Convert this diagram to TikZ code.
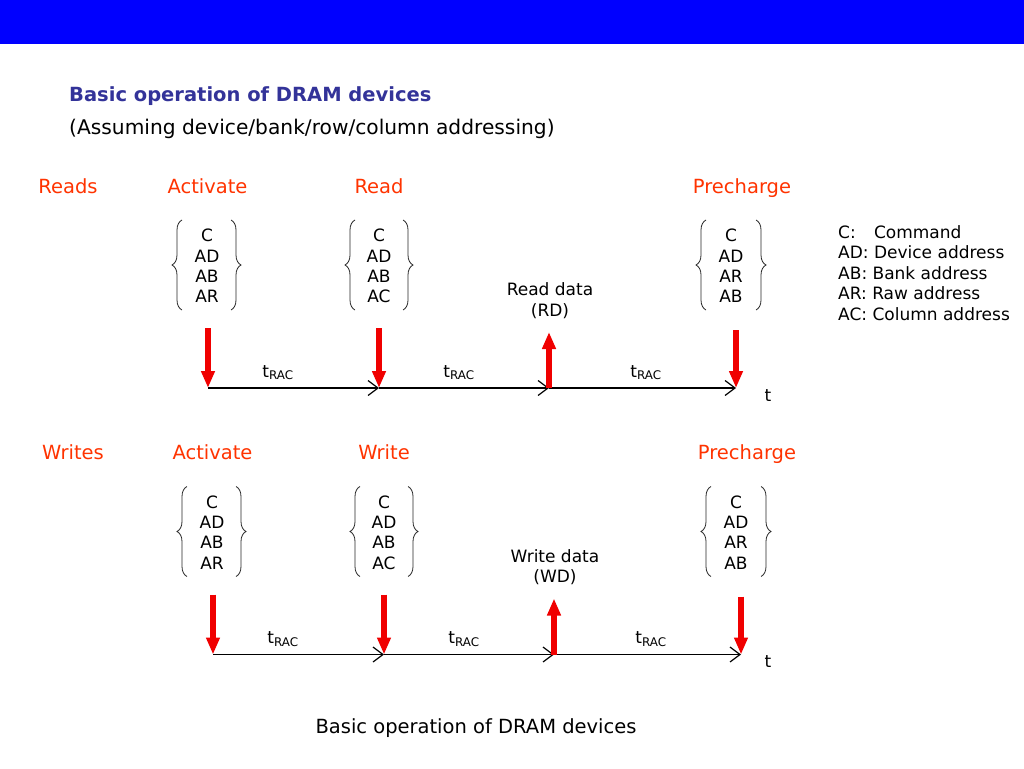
\documentclass[tikz,border=0pt]{standalone}
\usepackage{fontspec}
\setmainfont{DejaVu Sans}
\usetikzlibrary{arrows.meta,decorations.pathreplacing}
\definecolor{hdrblue}{RGB}{0,0,255}
\definecolor{ttlblue}{RGB}{51,51,153}
\definecolor{lblred}{RGB}{255,51,0}
\definecolor{arrred}{RGB}{240,0,0}
\begin{document}
\begin{tikzpicture}[x=1pt,y=1pt,
  lbl/.style={font=\fontsize{19.5}{23}\selectfont, text=lblred, inner sep=0pt, anchor=base},
  boxtxt/.style={font=\fontsize{17}{20.3}\selectfont, inner sep=0pt, align=center, anchor=center},
  small/.style={font=\fontsize{17}{20.5}\selectfont, inner sep=0pt},
  lbrace/.style={draw=black!85, line width=0.8pt, decorate, decoration={brace, amplitude=10pt}},
  redarr/.style={draw=arrred, line width=6.5pt, -{Triangle[length=17pt,width=13pt]}},
  timeaxis/.style={draw=black, line width=1.2pt, -{Straight Barb[length=10pt,width=15pt]}},
]
\useasboundingbox (0,0) rectangle (1024,-768);
\fill[hdrblue] (0,0) rectangle (1024,-44);

\node[font=\bfseries\fontsize{19.5}{23}\selectfont, text=ttlblue, inner sep=0pt, anchor=base west] (title) at (69,-101) {Basic operation of DRAM devices};
\node[font=\fontsize{20.2}{24}\selectfont, inner sep=0pt, anchor=base west] (subtitle) at (69,-134) {(Assuming device/bank/row/column addressing)};

% ---------------- Reads row ----------------
\node[lbl] (reads) at (68,-193) {Reads};
\node[lbl] (ract) at (207.5,-193) {Activate};
\node[lbl] (rread) at (379,-193) {Read};
\node[lbl] (rpre) at (742,-193) {Precharge};

\node[boxtxt] (rb1) at (207,-266) {C\\AD\\AB\\AR};
\node[boxtxt] (rb2) at (379,-266) {C\\AD\\AB\\AC};
\node[boxtxt] (rb3) at (731,-266) {C\\AD\\AR\\AB};
\draw[lbrace] (182,-310) -- (182,-220);
\draw[lbrace] (231,-220) -- (231,-310);
\draw[lbrace] (355,-310) -- (355,-220);
\draw[lbrace] (403,-220) -- (403,-310);
\draw[lbrace] (706,-310) -- (706,-220);
\draw[lbrace] (756,-220) -- (756,-310);

\node[small, align=center, anchor=base] (rdata) at (550,-316) {Read data\\(RD)};

\coordinate (ra0) at (208,-388);
\coordinate (ra1) at (379,-388);
\coordinate (ra2) at (549,-388);
\coordinate (ra3) at (736,-388);
\coordinate (rs0) at (208,-328);
\coordinate (rs1) at (379,-328);
\coordinate (rs2) at (549,-332);
\coordinate (rs3) at (736,-330);
\draw[timeaxis] (ra0) -- (ra1);
\draw[timeaxis] (ra1) -- (ra2);
\draw[timeaxis] (ra2) -- (ra3);
\draw[redarr] (rs0) -- (ra0);
\draw[redarr] (rs1) -- (ra1);
\draw[redarr] (ra2) -- (rs2);
\draw[redarr] (rs3) -- (ra3);
\node[small, anchor=base] (rt1) at (278,-377) {t\textsubscript{RAC}};
\node[small, anchor=base] (rt2) at (459,-377) {t\textsubscript{RAC}};
\node[small, anchor=base] (rt3) at (646,-377) {t\textsubscript{RAC}};
\node[small, anchor=base] (rtt) at (768,-401) {t};

% legend
\node[small, align=left, anchor=base west] (legend) at (838,-320)
  {\rlap{C:}\hphantom{AD: }Command\\AD: Device address\\AB: Bank address\\AR: Raw address\\AC: Column address};

% ---------------- Writes row ----------------
\begin{scope}[shift={(5,-266.5)}]
\node[lbl] (writes) at (68,-193) {Writes};
\node[lbl] (wact) at (207.5,-193) {Activate};
\node[lbl] (wwrite) at (379,-193) {Write};
\node[lbl] (wpre) at (742,-193) {Precharge};

\node[boxtxt] (wb1) at (207,-266) {C\\AD\\AB\\AR};
\node[boxtxt] (wb2) at (379,-266) {C\\AD\\AB\\AC};
\node[boxtxt] (wb3) at (731,-266) {C\\AD\\AR\\AB};
\draw[lbrace] (182,-310) -- (182,-220);
\draw[lbrace] (231,-220) -- (231,-310);
\draw[lbrace] (355,-310) -- (355,-220);
\draw[lbrace] (403,-220) -- (403,-310);
\draw[lbrace] (706,-310) -- (706,-220);
\draw[lbrace] (756,-220) -- (756,-310);

\node[small, align=center, anchor=base] (wdata) at (550,-316) {Write data\\(WD)};

\coordinate (wa0) at (208,-388);
\coordinate (wa1) at (379,-388);
\coordinate (wa2) at (549,-388);
\coordinate (wa3) at (736,-388);
\coordinate (ws0) at (208,-328);
\coordinate (ws1) at (379,-328);
\coordinate (ws2) at (549,-332);
\coordinate (ws3) at (736,-330);
\draw[timeaxis] (wa0) -- (wa1);
\draw[timeaxis] (wa1) -- (wa2);
\draw[timeaxis] (wa2) -- (wa3);
\draw[redarr] (ws0) -- (wa0);
\draw[redarr] (ws1) -- (wa1);
\draw[redarr] (wa2) -- (ws2);
\draw[redarr] (ws3) -- (wa3);
\node[small, anchor=base] (wt1) at (278,-377) {t\textsubscript{RAC}};
\node[small, anchor=base] (wt2) at (459,-377) {t\textsubscript{RAC}};
\node[small, anchor=base] (wt3) at (646,-377) {t\textsubscript{RAC}};
\node[small, anchor=base] (wtt) at (763,-401) {t};
\end{scope}

\node[font=\fontsize{19.5}{23}\selectfont, inner sep=0pt, anchor=base] (caption) at (476,-733) {Basic operation of DRAM devices};
\end{tikzpicture}
\end{document}
